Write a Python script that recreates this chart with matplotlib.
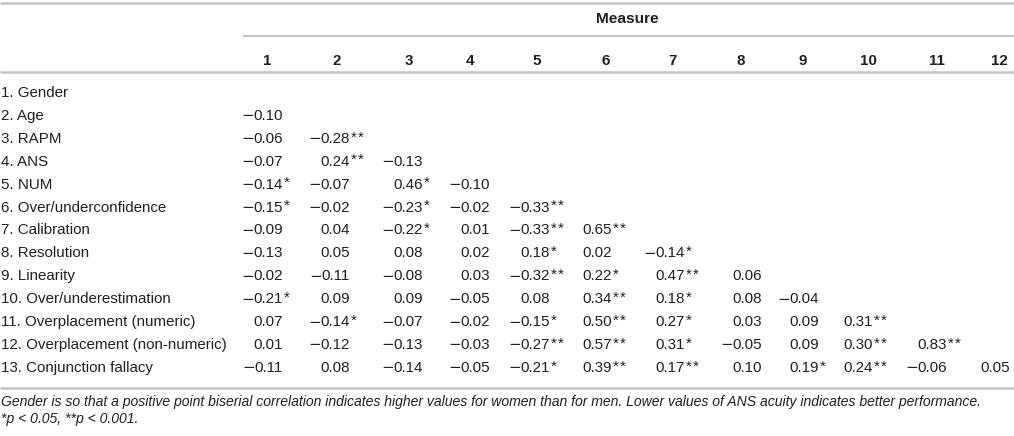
import matplotlib.pyplot as plt

plt.rcParams['font.family'] = ['Liberation Sans', 'DejaVu Sans']

# table content
row_labels = ["1. Gender", "2. Age", "3. RAPM", "4. ANS", "5. NUM",
              "6. Over/underconfidence", "7. Calibration", "8. Resolution",
              "9. Linearity", "10. Over/underestimation",
              "11. Overplacement (numeric)", "12. Overplacement (non-numeric)",
              "13. Conjunction fallacy"]
col_labels = [str(i) for i in range(1, 13)]

corr = [
    [],
    [-0.10],
    [-0.06, -0.28],
    [-0.07, 0.24, -0.13],
    [-0.14, -0.07, 0.46, -0.10],
    [-0.15, -0.02, -0.23, -0.02, -0.33],
    [-0.09, 0.04, -0.22, 0.01, -0.33, 0.65],
    [-0.13, 0.05, 0.08, 0.02, 0.18, 0.02, -0.14],
    [-0.02, -0.11, -0.08, 0.03, -0.32, 0.22, 0.47, 0.06],
    [-0.21, 0.09, 0.09, -0.05, 0.08, 0.34, 0.18, 0.08, -0.04],
    [0.07, -0.14, -0.07, -0.02, -0.15, 0.50, 0.27, 0.03, 0.09, 0.31],
    [0.01, -0.12, -0.13, -0.03, -0.27, 0.57, 0.31, -0.05, 0.09, 0.30, 0.83],
    [-0.11, 0.08, -0.14, -0.05, -0.21, 0.39, 0.17, 0.10, 0.19, 0.24, -0.06, 0.05],
]
stars = [
    [],
    [0],
    [0, 2],
    [0, 2, 0],
    [1, 0, 1, 0],
    [1, 0, 1, 0, 2],
    [0, 0, 1, 0, 2, 2],
    [0, 0, 0, 0, 1, 0, 1],
    [0, 0, 0, 0, 2, 1, 2, 0],
    [1, 0, 0, 0, 0, 2, 1, 0, 0],
    [0, 1, 0, 0, 1, 2, 1, 0, 0, 2],
    [0, 0, 0, 0, 2, 2, 1, 0, 0, 2, 2],
    [0, 0, 0, 0, 1, 2, 2, 0, 1, 2, 0, 0],
]
note1 = ("Gender is so that a positive point biserial correlation indicates higher values "
         "for women than for men. Lower values of ANS acuity indicates better performance.")
note2 = "*p < 0.05, **p < 0.001."

# layout (pixel coords)
W, H = 1014, 436
header_x = [267, 337, 409, 470, 537, 606, 673, 741, 803, 868, 937, 999]
num_right = [283, 350, 423, 490, 550, 612, 685, 762, 819, 873, 947, 1010]
row_y0, row_dy = 93, 22.9
txt = '#231f20'
rule = '#c4c4c4'
fs = 10.9

fig = plt.figure(figsize=(W / 100, H / 100), dpi=100)
ax = fig.add_axes([0, 0, 1, 1])
ax.set_xlim(0, W)
ax.set_ylim(H, 0)
ax.axis('off')
renderer = fig.canvas.get_renderer()

ax.hlines(3, 0, W, color=rule, lw=1.8)
ax.hlines(36, 243, W, color=rule, lw=1.5)
ax.hlines(72, 0, W, color=rule, lw=1.8)
ax.hlines(388, 0, W, color=rule, lw=1.8)

ax.text(627, 19, "Measure", ha='center', va='center', fontsize=fs * 1.02,
        fontweight='bold', color=txt)
for x, lab in zip(header_x, col_labels):
    ax.text(x, 61, lab, ha='center', va='center', fontsize=fs,
            fontweight='bold', color=txt)

for i, lab in enumerate(row_labels):
    y = row_y0 + i * row_dy
    ax.text(1, y, lab, ha='left', va='center', fontsize=fs, color=txt)
    for j, (v, s) in enumerate(zip(corr[i], stars[i])):
        t = ax.text(num_right[j], y, f"{abs(v):.2f}",
                    ha='right', va='center', fontsize=fs, color=txt)
        if v < 0:
            bb = t.get_window_extent(renderer)
            x0 = ax.transData.inverted().transform((bb.x0, bb.y0))[0]
            ax.text(x0 + 0.5, y, '\u2212', ha='right', va='center', fontsize=fs,
                    family='DejaVu Sans', color=txt)
        for k in range(s):
            ax.text(num_right[j] + 0.5 + 7 * k, y - 1.5, '*', ha='left',
                    va='center', fontsize=fs, color=txt)

ax.text(1, 402, note1, ha='left', va='center', fontsize=10.1,
        style='italic', color=txt)
ax.text(1, 419, note2, ha='left', va='center', fontsize=10.1,
        style='italic', color=txt)

fig.savefig('out.png', dpi=100)
